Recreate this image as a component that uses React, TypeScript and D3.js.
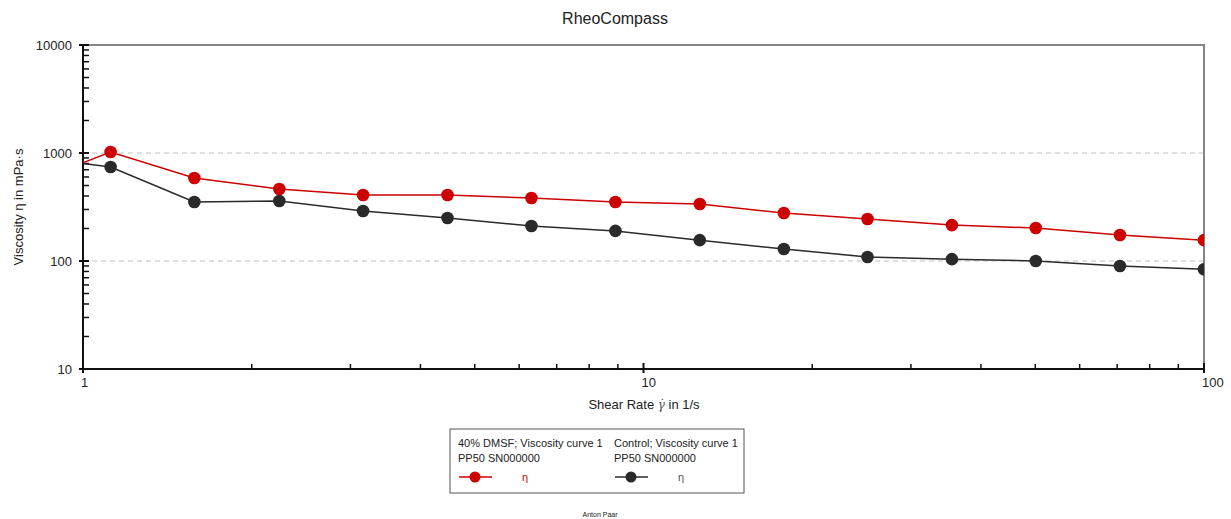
import React, { useEffect, useRef } from 'react';
import * as d3 from 'd3';

// shear rates (1/s) and viscosities (mPa·s)
const shearRate = [0.794, 1.12, 1.58, 2.24, 3.16, 4.47, 6.31, 8.91, 12.6, 17.8, 25.1, 35.5, 50.1, 70.8, 100];
const dmsfEta = [510, 1021, 587, 464, 409, 409, 383, 352, 337, 278, 245, 215, 202, 174, 156];
const controlEta = [930, 742, 352, 359, 290, 250, 211, 190, 156, 129, 109, 104, 100, 90, 84];

const xMajor = [1, 10, 100];
const xMinor = [2, 3, 4, 5, 6, 7, 8, 9, 20, 30, 40, 50, 60, 70, 80, 90];
const yMajor = [10, 100, 1000, 10000];
const yMinor = [20, 30, 40, 50, 60, 70, 80, 90, 200, 300, 400, 500, 600, 700, 800, 900,
  2000, 3000, 4000, 5000, 6000, 7000, 8000, 9000];
const yGrid = [100, 1000];

const series = [
  { name: '40% DMSF; Viscosity curve 1', sub: 'PP50 SN000000', values: dmsfEta, color: '#cc0000', text: '#cc0000' },
  { name: 'Control; Viscosity curve 1', sub: 'PP50 SN000000', values: controlEta, color: '#2a2a2a', text: '#555' },
];

const W = 1231;
const H = 519;
const font = '"Liberation Sans", Arial, sans-serif';

const App = () => {
  const ref = useRef<SVGSVGElement>(null);

  useEffect(() => {
    const svg = d3.select(ref.current);
    svg.selectAll('*').remove();

    const left = 83, right = 1204, top = 45, bottom = 369;
    const x = d3.scaleLog().domain([1, 100]).range([left, right]);
    const y = d3.scaleLog().domain([10, 10000]).range([bottom, top]);

    svg.append('defs').append('clipPath').attr('id', 'plot')
      .append('rect').attr('x', left).attr('y', top).attr('width', right - left).attr('height', bottom - top);

    // title
    svg.append('text').attr('x', 615).attr('y', 24).attr('text-anchor', 'middle')
      .style('font', `16px ${font}`).attr('fill', '#222').text('RheoCompass');

    // grid
    svg.selectAll('.grid').data(yGrid).enter().append('line')
      .attr('x1', left).attr('x2', right).attr('y1', d => y(d)).attr('y2', d => y(d))
      .attr('stroke', '#c0c0c0').attr('stroke-dasharray', '5,4').attr('stroke-width', 1);

    // frame top/right
    svg.append('line').attr('x1', left).attr('x2', right + 1).attr('y1', top).attr('y2', top)
      .attr('stroke', '#858585').attr('stroke-width', 2);
    svg.append('line').attr('x1', right).attr('x2', right).attr('y1', top).attr('y2', bottom)
      .attr('stroke', '#858585').attr('stroke-width', 2);

    // y axis
    const ya = svg.append('g');
    ya.append('line').attr('x1', left).attr('x2', left).attr('y1', top).attr('y2', bottom + 1)
      .attr('stroke', '#111').attr('stroke-width', 2);
    ya.selectAll('.ymin').data(yMinor).enter().append('line')
      .attr('x1', left).attr('x2', left + 6).attr('y1', d => y(d)).attr('y2', d => y(d))
      .attr('stroke', '#111').attr('stroke-width', 1.5);
    ya.selectAll('.ymaj').data(yMajor).enter().append('line')
      .attr('x1', left - 4).attr('x2', left + 6).attr('y1', d => y(d)).attr('y2', d => y(d))
      .attr('stroke', '#111').attr('stroke-width', 2);
    ya.selectAll('.ylab').data(yMajor).enter().append('text')
      .attr('x', 72).attr('y', d => y(d) + 5).attr('text-anchor', 'end')
      .style('font', `13px ${font}`).attr('fill', '#222').text(d => String(d));

    // x axis
    const xa = svg.append('g');
    xa.append('line').attr('x1', left - 1).attr('x2', right + 1).attr('y1', bottom).attr('y2', bottom)
      .attr('stroke', '#111').attr('stroke-width', 2);
    xa.selectAll('.xmin').data(xMinor).enter().append('line')
      .attr('x1', d => x(d)).attr('x2', d => x(d)).attr('y1', bottom - 5).attr('y2', bottom)
      .attr('stroke', '#111').attr('stroke-width', 1.5);
    xa.selectAll('.xmaj').data(xMajor).enter().append('line')
      .attr('x1', d => x(d)).attr('x2', d => x(d)).attr('y1', bottom - 6).attr('y2', bottom + 4)
      .attr('stroke', '#111').attr('stroke-width', 2);
    xa.selectAll('.xlab').data(xMajor).enter().append('text')
      .attr('x', d => x(d) - 2).attr('y', 387).attr('text-anchor', 'start')
      .style('font', `13px ${font}`).attr('fill', '#222').text(d => String(d));

    // axis titles
    const xt = svg.append('text').attr('x', 644).attr('y', 409).attr('text-anchor', 'middle')
      .style('font', `13px ${font}`).attr('fill', '#222');
    xt.append('tspan').text('Shear Rate ');
    xt.append('tspan').style('font', '12px "DejaVu Serif", serif').style('font-style', 'italic').attr('fill', '#555').text('γ̇');
    xt.append('tspan').text(' in 1/s');

    svg.append('text').attr('transform', 'translate(23,207) rotate(-90)').attr('text-anchor', 'middle')
      .style('font', `13px ${font}`).attr('fill', '#222').text('Viscosity η  in mPa·s');

    // data
    const plot = svg.append('g').attr('clip-path', 'url(#plot)');
    series.forEach(s => {
      const pts = shearRate.map((r, i) => [r, s.values[i]] as [number, number]);
      const line = d3.line<[number, number]>().x(d => x(d[0])).y(d => y(d[1]));
      plot.append('path').attr('d', line(pts)).attr('fill', 'none')
        .attr('stroke', s.color).attr('stroke-width', 1.5);
      plot.selectAll(null).data(pts).enter().append('circle')
        .attr('cx', d => x(d[0])).attr('cy', d => y(d[1])).attr('r', 6.3)
        .attr('fill', s.color);
    });

    // legend
    const lg = svg.append('g');
    lg.append('rect').attr('x', 450).attr('y', 429).attr('width', 294).attr('height', 64)
      .attr('fill', 'white').attr('stroke', '#555').attr('stroke-width', 1);
    series.forEach((s, i) => {
      const lx = 458 + i * 156;
      lg.append('text').attr('x', lx).attr('y', 447).style('font', `11px ${font}`).attr('fill', '#222').text(s.name);
      lg.append('text').attr('x', lx).attr('y', 462).style('font', `11px ${font}`).attr('fill', '#222').text(s.sub);
      lg.append('line').attr('x1', lx + 1).attr('x2', lx + 34).attr('y1', 477).attr('y2', 477)
        .attr('stroke', s.color).attr('stroke-width', 1.5);
      lg.append('circle').attr('cx', lx + 17).attr('cy', 477).attr('r', 5.5).attr('fill', s.color);
      lg.append('text').attr('x', lx + 64).attr('y', 481).style('font', `11px ${font}`).attr('fill', s.text).text('η');
    });

    svg.append('text').attr('x', 600).attr('y', 517).attr('text-anchor', 'middle')
      .style('font', `7px ${font}`).attr('fill', '#222').text('Anton Paar');
  }, []);

  return (
    <div style={{ position: 'absolute', left: 0, top: 0 }}>
      <svg ref={ref} width={W} height={H} style={{ display: 'block', background: 'white' }} />
    </div>
  );
};

export default App;
